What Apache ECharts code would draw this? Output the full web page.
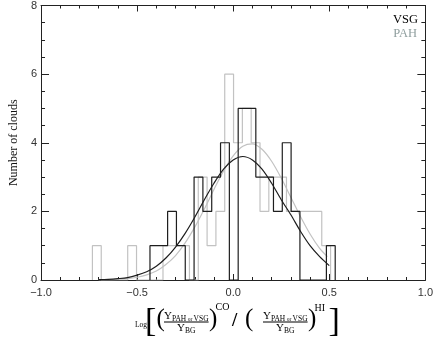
<!DOCTYPE html>
<html lang="en">
<head>
<meta charset="UTF-8">
<title>VSG / PAH histogram</title>
<style>
  * { margin: 0; padding: 0; }
  #chart { width: 436px; height: 359px; }
</style>
</head>
<body>
<div id="chart"></div>
<script src="https://cdn.jsdelivr.net/npm/echarts@6/dist/echarts.min.js"></script>
<script>
// histogram bins
var binWidth = 0.0459;
var vsgStart = -0.433;
var vsgCounts = [1, 1, 2, 1, 0, 3, 2, 3, 4, 0, 5, 5, 3, 3, 2, 4, 2, 0, 0, 0, 1];
var pahStart = -0.7325;
var pahCounts = [1, 0, 0, 0, 1, 0, 0, 0, 1, 1, 1, 0, 3, 1, 2, 6, 4, 5, 4, 2, 3, 3, 2, 2, 2, 2, 1];

// gaussian fits
var vsgFitX = [-0.70, -0.65, -0.60, -0.55, -0.50, -0.45, -0.40, -0.35, -0.30, -0.25, -0.20, -0.15, -0.10,
               -0.05, 0.00, 0.05, 0.10, 0.15, 0.20, 0.25, 0.30, 0.35, 0.40, 0.45, 0.50];
var vsgFit = [0.01, 0.02, 0.04, 0.07, 0.14, 0.24, 0.40, 0.64, 0.96, 1.36, 1.83, 2.34, 2.82,
              3.23, 3.50, 3.60, 3.50, 3.23, 2.82, 2.34, 1.90, 1.42, 1.00, 0.68, 0.42];
var pahFitX = [-0.70, -0.65, -0.60, -0.55, -0.50, -0.45, -0.40, -0.35, -0.30, -0.25, -0.20, -0.15, -0.10,
               -0.05, 0.00, 0.05, 0.10, 0.15, 0.20, 0.25, 0.30, 0.35, 0.40, 0.45, 0.49];
var pahFit = [0.00, 0.01, 0.02, 0.04, 0.08, 0.15, 0.26, 0.45, 0.71, 1.08, 1.54, 2.07, 2.64,
              3.18, 3.62, 3.90, 3.97, 3.81, 3.46, 2.97, 2.41, 1.85, 1.34, 0.92, 0.68];

var xTicks = [-1.0, -0.5, 0.0, 0.5, 1.0];
var yTicks = [0, 2, 4, 6, 8];

var BLACK = '#1e1e1e';
var GREY = '#c2c2c2';
var SERIF = '"Liberation Serif", "DejaVu Serif", serif';
var SANS = '"Liberation Sans", Arial, sans-serif';

function stepData(start, counts) {
    var pts = [[start, 0]];
    counts.forEach(function (c, i) {
        pts.push([start + i * binWidth, c]);
    });
    pts.push([start + counts.length * binWidth, 0]);
    return pts;
}

function zip(xs, ys) {
    return xs.map(function (x, i) { return [x, ys[i]]; });
}

function xAxisCfg(pos, labels) {
    return {
        type: 'value', position: pos, min: xTicks[0], max: xTicks[xTicks.length - 1], interval: 0.5,
        axisLine: { show: true, onZero: false, lineStyle: { color: '#222', width: 1 } },
        axisTick: { show: true, inside: true, length: 6, lineStyle: { color: '#222' } },
        minorTick: { show: true, splitNumber: 5, length: 3, lineStyle: { color: '#222' } },
        splitLine: { show: false },
        axisLabel: {
            show: labels, margin: 7, fontFamily: SANS, fontSize: 11, color: '#333',
            formatter: function (v) { return (v < 0 ? '\u2212' : '') + Math.abs(v).toFixed(1); }
        }
    };
}

function yAxisCfg(pos, labels) {
    return {
        type: 'value', position: pos, min: yTicks[0], max: yTicks[yTicks.length - 1], interval: 2,
        name: labels ? 'Number of clouds' : '', nameLocation: 'middle', nameGap: 21,
        nameTextStyle: { fontFamily: SERIF, fontSize: 12, color: '#111' },
        axisLine: { show: true, onZero: false, lineStyle: { color: '#222', width: 1 } },
        axisTick: { show: true, inside: true, length: 8, lineStyle: { color: '#222' } },
        minorTick: { show: true, splitNumber: 4, length: 4, lineStyle: { color: '#222' } },
        splitLine: { show: false },
        axisLabel: { show: labels, margin: 4, fontFamily: SANS, fontSize: 11, color: '#333' }
    };
}

// x axis title, laid out piece by piece
var DY = 2.5;
var measure = document.createElement('canvas').getContext('2d');
function fontOf(size, weight) { return (weight || 'normal') + ' ' + size + 'px ' + SERIF; }
function widthOf(s, size, weight) { measure.font = fontOf(size, weight); return measure.measureText(s).width; }
function txt(s, size, x, base, weight) {
    return {
        type: 'text', x: x, y: base + DY - 0.34 * size, silent: true,
        style: { text: s, font: fontOf(size, weight), fill: '#000', textAlign: 'left', textVerticalAlign: 'middle' }
    };
}

function fraction(x0, out) {
    var x = x0;
    var parts = [['Y', 11, 317.5], ['PAH', 7.5, 318.6], [' or ', 5.5, 318.6], ['VSG', 7.5, 318.6]];
    parts.forEach(function (p) {
        out.push(txt(p[0], p[1], x, p[2]));
        x += widthOf(p[0], p[1]);
    });
    var numW = x - x0;
    var denW = widthOf('Y', 11) + widthOf('BG', 7.5);
    var dx = x0 + (numW - denW) / 2;
    out.push(txt('Y', 11, dx, 329.5));
    out.push(txt('BG', 7.5, dx + widthOf('Y', 11), 331));
    out.push({
        type: 'line', silent: true,
        shape: { x1: x0, y1: 319.5 + DY, x2: x0 + numW, y2: 319.5 + DY },
        style: { stroke: '#000', lineWidth: 1 }
    });
    return x0 + numW;
}

var title = [];
title.push(txt('Log', 7.5, 135, 325));
title.push(txt('[', 34, 145, 331));
title.push(txt('(', 25, 156.5, 325.5));
var end1 = fraction(164, title);
title.push(txt(')', 25, end1 + 0.5, 325.5));
title.push(txt('CO', 10, end1 + 7, 308.5));
title.push(txt('/', 19, 232, 325.5, 'bold'));
title.push(txt('(', 25, 245, 325.5));
var end2 = fraction(263, title);
title.push(txt(')', 25, end2 + 0.5, 325.5));
title.push(txt('HI', 10, end2 + 7, 309));
title.push(txt(']', 34, end2 + 21, 331));

// legend labels
title.push({
    type: 'text', x: 418, y: 19.5, silent: true,
    style: { text: 'VSG', font: '12.5px ' + SERIF, fill: '#000', textAlign: 'right', textVerticalAlign: 'middle' }
});
title.push({
    type: 'text', x: 417, y: 33.5, silent: true,
    style: { text: 'PAH', font: '12.5px ' + SERIF, fill: '#8f9e9e', textAlign: 'right', textVerticalAlign: 'middle' }
});

var chart = echarts.init(document.getElementById('chart'));
chart.setOption({
    animation: false,
    backgroundColor: '#fff',
    grid: { left: 35, right: 7, top: 1, bottom: 79 },
    xAxis: [xAxisCfg('bottom', true), xAxisCfg('top', false)],
    yAxis: [yAxisCfg('left', true), yAxisCfg('right', false)],
    series: [
        {
            name: 'PAH', type: 'line', step: 'end', symbol: 'none',
            data: stepData(pahStart, pahCounts),
            lineStyle: { color: GREY, width: 1.2 }
        },
        {
            name: 'PAH fit', type: 'line', smooth: 0.3, symbol: 'none',
            data: zip(pahFitX, pahFit),
            lineStyle: { color: GREY, width: 1.2 }
        },
        {
            name: 'VSG', type: 'line', step: 'end', symbol: 'none',
            data: stepData(vsgStart, vsgCounts),
            lineStyle: { color: BLACK, width: 1.2 }
        },
        {
            name: 'VSG fit', type: 'line', smooth: 0.3, symbol: 'none',
            data: zip(vsgFitX, vsgFit),
            lineStyle: { color: BLACK, width: 1.2 }
        }
    ],
    graphic: title
});
</script>
</body>
</html>
